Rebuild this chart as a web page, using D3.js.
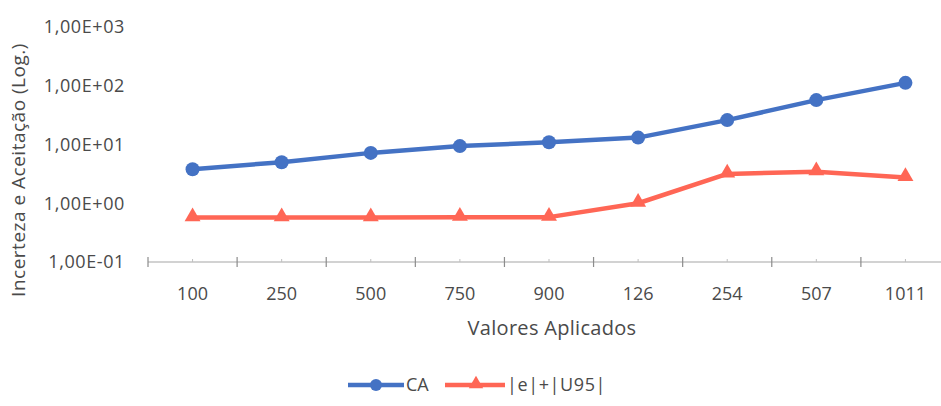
<!DOCTYPE html>
<html>
<head>
<meta charset="utf-8">
<script src="https://cdn.jsdelivr.net/npm/d3@7"></script>
<style>
  body { margin: 0; background: #fff; }
  svg { display: block; font-family: "Open Sans", sans-serif; }
</style>
</head>
<body>
<div id="chart"></div>
<script>
(() => {
    const width = 941;
    const height = 406;

    // Data
    const categories = ["100", "250", "500", "750", "900", "126", "254", "507", "1011"];
    const caValues = [3.8, 5.0, 7.2, 9.4, 10.9, 13.1, 26, 57, 112];
    const errValues = [0.57, 0.57, 0.57, 0.58, 0.58, 1.0, 3.15, 3.45, 2.75];
    const yTicks = [0.1, 1, 10, 100, 1000];
    const yTickLabels = ["1,00E-01", "1,00E+00", "1,00E+01", "1,00E+02", "1,00E+03"];

    const blue = "#4472C4";
    const red = "#FF6655";
    const textColor = "#4A4A4A";

    const plot = { left: 148, right: 950, top: 27, bottom: 262 };

    const svg = d3.select("#chart")
        .append("svg")
        .attr("width", width)
        .attr("height", height);

    const xScale = d3.scaleBand()
        .domain(categories)
        .range([plot.left, plot.right])
        .padding(0);

    const yScale = d3.scaleLog()
        .domain([0.1, 1000])
        .range([plot.bottom, plot.top]);

    // Y tick labels (no axis line)
    svg.append("g")
        .selectAll("text")
        .data(yTicks)
        .join("text")
        .attr("x", 125)
        .attr("y", d => yScale(d))
        .attr("dy", "0.35em")
        .attr("text-anchor", "end")
        .style("font-size", "18px")
        .style("letter-spacing", "0.6px")
        .style("fill", textColor)
        .text((d, i) => yTickLabels[i]);

    // X axis line
    const xAxis = svg.append("g");
    xAxis.append("line")
        .attr("x1", plot.left)
        .attr("x2", plot.right)
        .attr("y1", plot.bottom)
        .attr("y2", plot.bottom)
        .attr("stroke", "#A6A6A6")
        .attr("stroke-width", 1.2);

    // boundary ticks
    xAxis.selectAll("line.bound")
        .data(categories.concat(["end"]))
        .join("line")
        .attr("class", "bound")
        .attr("x1", (d, i) => plot.left + i * xScale.bandwidth())
        .attr("x2", (d, i) => plot.left + i * xScale.bandwidth())
        .attr("y1", plot.bottom - 5)
        .attr("y2", plot.bottom + 5)
        .attr("stroke", "#8C8C8C")
        .attr("stroke-width", 1.2);

    // small centre ticks
    xAxis.selectAll("line.mid")
        .data(categories)
        .join("line")
        .attr("class", "mid")
        .attr("x1", d => xScale(d) + xScale.bandwidth() / 2)
        .attr("x2", d => xScale(d) + xScale.bandwidth() / 2)
        .attr("y1", plot.bottom - 3)
        .attr("y2", plot.bottom)
        .attr("stroke", "#BFBFBF");

    xAxis.selectAll("text")
        .data(categories)
        .join("text")
        .attr("x", d => xScale(d) + xScale.bandwidth() / 2)
        .attr("y", 300)
        .attr("text-anchor", "middle")
        .style("font-size", "18px")
        .style("fill", textColor)
        .text(d => d);

    // Axis titles
    svg.append("text")
        .attr("x", 552)
        .attr("y", 335)
        .attr("text-anchor", "middle")
        .style("font-size", "20px")
        .style("letter-spacing", "0.3px")
        .style("fill", textColor)
        .text("Valores Aplicados");

    svg.append("text")
        .attr("transform", "rotate(-90)")
        .attr("x", -170)
        .attr("y", 25)
        .attr("text-anchor", "middle")
        .style("font-size", "19px")
        .style("letter-spacing", "0.5px")
        .style("fill", textColor)
        .text("Incerteza e Aceitação (Log.)");

    const cx = d => xScale(d) + xScale.bandwidth() / 2;

    const line = d3.line()
        .x(d => cx(d.cat))
        .y(d => yScale(d.v));

    const caData = categories.map((c, i) => ({ cat: c, v: caValues[i] }));
    const errData = categories.map((c, i) => ({ cat: c, v: errValues[i] }));

    // |e|+|U95| series
    svg.append("path")
        .datum(errData)
        .attr("fill", "none")
        .attr("stroke", red)
        .attr("stroke-width", 4.5)
        .attr("stroke-linejoin", "round")
        .attr("d", line);

    svg.append("g")
        .selectAll("path")
        .data(errData)
        .join("path")
        .attr("transform", d => `translate(${cx(d.cat)}, ${yScale(d.v) - 1})`)
        .attr("d", d3.symbol(d3.symbolTriangle, 110))
        .attr("fill", red);

    // CA series
    svg.append("path")
        .datum(caData)
        .attr("fill", "none")
        .attr("stroke", blue)
        .attr("stroke-width", 4.5)
        .attr("stroke-linejoin", "round")
        .attr("d", line);

    svg.append("g")
        .selectAll("circle")
        .data(caData)
        .join("circle")
        .attr("cx", d => cx(d.cat))
        .attr("cy", d => yScale(d.v))
        .attr("r", 7)
        .attr("fill", blue);

    // Legend
    const legend = svg.append("g").attr("transform", "translate(0, 385)");

    legend.append("line")
        .attr("x1", 348).attr("x2", 404)
        .attr("y1", 0).attr("y2", 0)
        .attr("stroke", blue)
        .attr("stroke-width", 4.5);
    legend.append("circle")
        .attr("cx", 376).attr("cy", 0).attr("r", 6)
        .attr("fill", blue);
    legend.append("text")
        .attr("x", 406).attr("y", 0)
        .attr("dy", "0.35em")
        .style("font-size", "18px")
        .style("fill", textColor)
        .text("CA");

    legend.append("line")
        .attr("x1", 445).attr("x2", 505)
        .attr("y1", 0).attr("y2", 0)
        .attr("stroke", red)
        .attr("stroke-width", 4.5);
    legend.append("path")
        .attr("transform", "translate(476, -1)")
        .attr("d", d3.symbol(d3.symbolTriangle, 90))
        .attr("fill", red);
    legend.append("text")
        .attr("x", 507).attr("y", 0)
        .attr("dy", "0.35em")
        .style("font-size", "18px")
        .style("letter-spacing", "0.6px")
        .style("fill", textColor)
        .text("|e|+|U95|");
})();
</script>
</body>
</html>
